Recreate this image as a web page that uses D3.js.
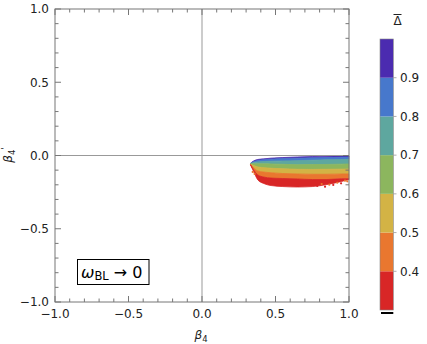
<!DOCTYPE html>
<html><head><meta charset="utf-8">
<script src="https://cdn.jsdelivr.net/npm/d3@7"></script>
<style>body{margin:0;background:#fff}svg{display:block}text{font-family:"DejaVu Sans",sans-serif}</style>
</head><body>
<svg id="c" width="427" height="344"></svg>
<script>
// ---- data ----
const betaGrid = [0.33, 0.35, 0.38, 0.42, 0.47, 0.55, 0.65, 0.75, 0.85, 0.95, 1.0];
// boundaries of the Δ̄ bands (β4' values) from top edge downward
const edgeTop = [-0.053, -0.038, -0.027, -0.023, -0.018, -0.014, -0.010, -0.007, -0.005, -0.003, -0.003];
const edge090 = [-0.054, -0.043, -0.034, -0.029, -0.025, -0.021, -0.018, -0.016, -0.014, -0.012, -0.011];
const edge080 = [-0.055, -0.048, -0.044, -0.041, -0.039, -0.037, -0.035, -0.032, -0.029, -0.027, -0.026];
const edge070 = [-0.057, -0.057, -0.057, -0.057, -0.058, -0.060, -0.063, -0.062, -0.061, -0.059, -0.058];
const edge060 = [-0.059, -0.068, -0.078, -0.083, -0.087, -0.091, -0.094, -0.095, -0.094, -0.093, -0.092];
const edge050 = [-0.061, -0.082, -0.106, -0.113, -0.118, -0.123, -0.126, -0.128, -0.128, -0.126, -0.126];
const edge040 = [-0.063, -0.096, -0.133, -0.147, -0.154, -0.157, -0.160, -0.164, -0.164, -0.159, -0.159];
const edgeBottom = [-0.065, -0.106, -0.167, -0.191, -0.205, -0.212, -0.215, -0.212, -0.198, -0.177, -0.164];
const bandDelta = [0.95, 0.85, 0.75, 0.65, 0.55, 0.45, 0.35];
// scattered points on the ragged rim
const rimBeta = [0.784, 0.814, 0.837, 0.866, 0.893, 0.920, 0.946, 0.973, 0.988, 0.345, 0.358];
const rimBetaP = [-0.208, -0.195, -0.213, -0.199, -0.201, -0.186, -0.190, -0.172, -0.176, -0.112, -0.126];
const rimDelta = [0.38, 0.45, 0.36, 0.42, 0.37, 0.44, 0.39, 0.46, 0.43, 0.46, 0.47];
// colour legend
const binEdges = [0.3, 0.4, 0.5, 0.6, 0.7, 0.8, 0.9, 1.0];
const binColors = ["#d82626", "#e9772f", "#d3b345", "#8cb65e", "#5ea79f", "#4778cc", "#4b2bb0"];
const barTicks = [0.4, 0.5, 0.6, 0.7, 0.8, 0.9];
const axisTicks = [-1.0, -0.5, 0.0, 0.5, 1.0];
const minorTicks = d3.range(-10, 11).map(i => i / 10);

// ---- drawing ----
const svg = d3.select("#c");
const x = d3.scaleLinear().domain([-1, 1]).range([55, 349]);
const y = d3.scaleLinear().domain([-1, 1]).range([302, 9]);
const col = d3.scaleThreshold().domain(binEdges.slice(1, -1)).range(binColors);
const fmt = d => d3.format(".1f")(d).replace("-", "\u2212");

const edges = [edgeTop, edge090, edge080, edge070, edge060, edge050, edge040, edgeBottom];
const g = svg.append("g");
bandDelta.forEach((dv, i) => {
  const area = d3.area()
    .x((d, j) => x(betaGrid[j]))
    .y0((d, j) => y(edges[i][j]))
    .y1((d, j) => y(edges[i + 1][j]))
    .curve(d3.curveMonotoneX);
  g.append("path").attr("d", area(betaGrid)).attr("fill", col(dv))
    .attr("stroke", col(dv)).attr("stroke-width", 0.8);
});
g.selectAll("circle").data(rimBeta).join("circle")
  .attr("cx", (d, i) => x(d)).attr("cy", (d, i) => y(rimBetaP[i]))
  .attr("r", 1.1).attr("fill", (d, i) => col(rimDelta[i]));

// zero lines
svg.append("line").attr("x1", x(-1)).attr("x2", x(1)).attr("y1", y(0)).attr("y2", y(0))
  .attr("stroke", "#999").attr("stroke-width", 1);
svg.append("line").attr("x1", x(0)).attr("x2", x(0)).attr("y1", y(-1)).attr("y2", y(1))
  .attr("stroke", "#999").attr("stroke-width", 1);

// frame
const frameCol = "#777";
svg.append("rect").attr("x", x(-1)).attr("y", y(1)).attr("width", x(1) - x(-1)).attr("height", y(-1) - y(1))
  .attr("fill", "none").attr("stroke", frameCol).attr("stroke-width", 1);
const isMajor = v => axisTicks.some(t => Math.abs(t - v) < 1e-9);
minorTicks.forEach(v => {
  const L = isMajor(v) ? 6 : 3.5;
  svg.append("line").attr("x1", x(v)).attr("x2", x(v)).attr("y1", y(-1)).attr("y2", y(-1) - L).attr("stroke", frameCol);
  svg.append("line").attr("x1", x(v)).attr("x2", x(v)).attr("y1", y(1)).attr("y2", y(1) + L).attr("stroke", frameCol);
  svg.append("line").attr("y1", y(v)).attr("y2", y(v)).attr("x1", x(-1)).attr("x2", x(-1) + L).attr("stroke", frameCol);
  svg.append("line").attr("y1", y(v)).attr("y2", y(v)).attr("x1", x(1)).attr("x2", x(1) - L).attr("stroke", frameCol);
});
// tick labels
svg.selectAll("text.xt").data(axisTicks).join("text").attr("class", "xt")
  .attr("x", d => x(d)).attr("y", 318).attr("text-anchor", "middle")
  .attr("font-size", 12).attr("fill", "#222").text(fmt);
svg.selectAll("text.yt").data(axisTicks).join("text").attr("class", "yt")
  .attr("x", 49).attr("y", d => y(d) + 4.3).attr("text-anchor", "end")
  .attr("font-size", 12).attr("fill", "#222").text(fmt);

// axis labels
const xl = svg.append("text").attr("x", 201).attr("y", 339).attr("text-anchor", "middle").attr("font-size", 12).attr("fill", "#222");
xl.append("tspan").attr("font-style", "italic").text("β");
xl.append("tspan").attr("font-size", 8.5).attr("dy", 2.5).text("4");
const yl = svg.append("text").attr("transform", "translate(12,155) rotate(-90)").attr("text-anchor", "middle")
  .attr("font-size", 12).attr("fill", "#222");
yl.append("tspan").attr("font-style", "italic").text("β");
yl.append("tspan").attr("font-size", 8.5).attr("dy", 2.5).text("4");
yl.append("tspan").attr("dy", -7).attr("font-size", 9).text("'");

// label box
svg.append("rect").attr("x", 77.5).attr("y", 259.5).attr("width", 71.5).attr("height", 25)
  .attr("fill", "#fff").attr("stroke", "#000").attr("stroke-width", 1);
const lt = svg.append("text").attr("x", 81).attr("y", 278).attr("font-size", 16).attr("fill", "#000");
lt.append("tspan").attr("font-style", "italic").text("ω");
lt.append("tspan").attr("font-size", 11.5).attr("dy", 2).text("BL");
lt.append("tspan").attr("dy", -2).text(" → 0");

// colour bar
const cy = d3.scaleLinear().domain([0.3, 1.0]).range([310, 39]);
svg.selectAll("rect.bin").data(binColors).join("rect").attr("class", "bin")
  .attr("x", 380).attr("width", 13.3)
  .attr("y", (d, i) => cy(binEdges[i + 1])).attr("height", (d, i) => cy(binEdges[i]) - cy(binEdges[i + 1]))
  .attr("fill", d => d);
svg.append("rect").attr("x", 380).attr("y", cy(1.0)).attr("width", 13.3).attr("height", cy(0.3) - cy(1.0))
  .attr("fill", "none").attr("stroke", "#888").attr("stroke-width", 0.6);
svg.selectAll("line.bt").data(barTicks).join("line").attr("class", "bt")
  .attr("x1", 393.3).attr("x2", 396.5).attr("y1", d => cy(d)).attr("y2", d => cy(d))
  .attr("stroke", "#999").attr("stroke-width", 0.8);
svg.selectAll("text.bl").data(barTicks).join("text").attr("class", "bl")
  .attr("x", 400).attr("y", d => cy(d) + 4.3).attr("font-size", 12).attr("fill", "#222").text(fmt);
svg.append("line").attr("x1", 381).attr("x2", 393.3).attr("y1", 313).attr("y2", 313).attr("stroke", "#000").attr("stroke-width", 2);
// colour bar title  Δ̄
svg.append("text").attr("x", 397.5).attr("y", 25).attr("text-anchor", "middle").attr("font-size", 12).attr("fill", "#222").text("Δ");
svg.append("line").attr("x1", 393.5).attr("x2", 401.5).attr("y1", 14.5).attr("y2", 14.5).attr("stroke", "#222").attr("stroke-width", 1);
</script>
</body></html>
